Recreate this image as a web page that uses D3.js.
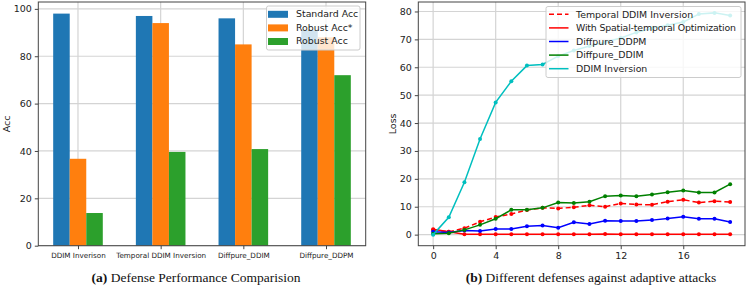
<!DOCTYPE html>
<html>
<head>
<meta charset="utf-8">
<script src="https://cdn.jsdelivr.net/npm/d3@7"></script>
<style>
  body { margin: 0; background: #fff; }
  text { font-family: "DejaVu Sans", sans-serif; fill: #222; }
  .caption { font-family: "Liberation Serif", serif; font-size: 13.5px; fill: #111; }
</style>
</head>
<body>
<svg id="chart" width="748" height="287"></svg>
<script>
// Panel (a) data
const categories = ["DDIM Inverison", "Temporal DDIM Inversion", "Diffpure_DDIM", "Diffpure_DDPM"];
const barSeries = ["Standard Acc", "Robust Acc*", "Robust Acc"];
const standardAcc = [98, 97, 96, 91];
const robustAccStar = [36.7, 94, 85, 88];
const robustAcc = [13.8, 39.6, 40.8, 72];
const barColors = ["#1f77b4", "#ff7f0e", "#2ca02c"];
const accTicks = [0, 20, 40, 60, 80, 100];

// Panel (b) data
const steps = d3.range(0, 20);
const temporalDDIM = [1.7, 1.0, 2.3, 4.6, 6.3, 7.4, 8.8, 9.6, 9.4, 9.8, 10.5, 10.0, 11.2, 10.8, 10.7, 11.8, 12.5, 11.5, 12.0, 11.7];
const spatialTemporal = [1.9, 1.0, 0.1, 0.1, 0.1, 0.1, 0.1, 0.1, 0.1, 0.1, 0.1, 0.2, 0.1, 0.1, 0.1, 0.1, 0.1, 0.1, 0.1, 0.1];
const diffpureDDPM = [1.0, 0.8, 1.5, 1.3, 2.0, 2.0, 3.0, 3.3, 2.5, 4.4, 3.8, 5.0, 4.9, 4.9, 5.2, 5.8, 6.4, 5.7, 5.7, 4.5];
const diffpureDDIM = [0.3, 0.5, 1.7, 3.5, 5.7, 8.9, 8.9, 9.6, 11.5, 11.3, 11.8, 13.8, 14.0, 13.8, 14.4, 15.2, 15.8, 15.1, 15.1, 18.1];
const ddimInversion = [0.0, 6.2, 18.8, 34.3, 47.4, 55.0, 60.6, 61.0, 64.0, 66.0, 67.6, 69.0, 70.5, 72.5, 74.0, 75.1, 76.2, 79.1, 79.5, 78.6];
const lossTicksX = [0, 4, 8, 12, 16];
const lossTicksY = [0, 10, 20, 30, 40, 50, 60, 70, 80];

const lineSeries = [
  { name: "Temporal DDIM Inversion", values: temporalDDIM, color: "#ff0000", dash: "5,3" },
  { name: "With Spatial-temporal Optimization", values: spatialTemporal, color: "#ff0000", dash: null },
  { name: "Diffpure_DDPM", values: diffpureDDPM, color: "#0000ff", dash: null },
  { name: "Diffpure_DDIM", values: diffpureDDIM, color: "#008000", dash: null },
  { name: "DDIM Inversion", values: ddimInversion, color: "#00bfbf", dash: null }
];

const svg = d3.select("#chart");
const gridColor = "#d4d4d4";
const spineColor = "#444";

// ---------- Panel (a): grouped bars ----------
const a = { left: 38.3, right: 365.7, top: 2, bottom: 245.7 };
const ga = svg.append("g");

const xA = d3.scaleLinear().domain([-0.48, 3.48]).range([a.left, a.right]);
const yA = d3.scaleLinear().domain([0, 102.9]).range([a.bottom, a.top]);

// grid
ga.append("g").selectAll("line").data(accTicks).join("line")
  .attr("x1", a.left).attr("x2", a.right)
  .attr("y1", d => yA(d)).attr("y2", d => yA(d))
  .attr("stroke", gridColor).attr("stroke-width", 1.2);
ga.append("g").selectAll("line").data(categories).join("line")
  .attr("x1", (d, i) => xA(i)).attr("x2", (d, i) => xA(i))
  .attr("y1", a.top).attr("y2", a.bottom)
  .attr("stroke", gridColor).attr("stroke-width", 1.2);

// bars
const barData = [standardAcc, robustAccStar, robustAcc];
const barW = 0.2;
barData.forEach((vals, s) => {
  ga.append("g").selectAll("rect").data(vals).join("rect")
    .attr("x", (d, i) => xA(i + (s - 1) * barW - barW / 2))
    .attr("width", xA(barW) - xA(0))
    .attr("y", d => yA(d))
    .attr("height", d => yA(0) - yA(d))
    .attr("fill", barColors[s]);
});

// axes
const axA_y = ga.append("g").attr("transform", `translate(${a.left},0)`)
  .call(d3.axisLeft(yA).tickValues(accTicks).tickSize(3.5).tickPadding(3));
axA_y.selectAll("text").style("font-size", "9.5px").style("fill", "#222");
const axA_x = ga.append("g").attr("transform", `translate(0,${a.bottom})`)
  .call(d3.axisBottom(xA).tickValues([0, 1, 2, 3]).tickFormat(i => categories[i]).tickSize(3.5).tickPadding(4));
axA_x.selectAll("text").style("font-size", "7.2px").style("fill", "#222");
[axA_x, axA_y].forEach(ax => {
  ax.select(".domain").remove();
  ax.selectAll("line").attr("stroke", spineColor);
});
ga.append("rect")
  .attr("x", a.left).attr("y", a.top)
  .attr("width", a.right - a.left).attr("height", a.bottom - a.top)
  .attr("fill", "none").attr("stroke", spineColor).attr("stroke-width", 1);

ga.append("text")
  .attr("transform", `translate(7,${(a.top + a.bottom) / 2}) rotate(-90)`)
  .attr("text-anchor", "middle").attr("dy", "0.35em")
  .style("font-size", "9.5px").text("Acc");

// legend (a)
const legA = ga.append("g").attr("transform", "translate(266.5,6)");
legA.append("rect").attr("width", 93.5).attr("height", 44).attr("rx", 2)
  .attr("fill", "#fff").attr("fill-opacity", 0.8).attr("stroke", "#ccc");
barSeries.forEach((name, i) => {
  const row = legA.append("g").attr("transform", `translate(0,${8 + i * 13.6})`);
  row.append("rect").attr("x", 1.5).attr("y", -3.2).attr("width", 20).attr("height", 7).attr("fill", barColors[i]);
  row.append("text").attr("x", 29.5).attr("dy", "0.35em").style("font-size", "9.4px").text(name);
});

ga.append("text").attr("class", "caption")
  .attr("x", 196).attr("y", 281.5).attr("text-anchor", "middle")
  .html('<tspan font-weight="bold">(a)</tspan> Defense Performance Comparision');

// ---------- Panel (b): loss curves ----------
const b = { left: 418.3, right: 745, top: 2, bottom: 245.7 };
const gb = svg.append("g");

const xB = d3.scaleLinear().domain([-0.95, 19.95]).range([b.left, b.right]);
const yB = d3.scaleLinear().domain([-3.97, 83.4]).range([b.bottom, b.top]);

gb.append("g").selectAll("line").data(lossTicksY).join("line")
  .attr("x1", b.left).attr("x2", b.right)
  .attr("y1", d => yB(d)).attr("y2", d => yB(d))
  .attr("stroke", gridColor).attr("stroke-width", 1.2);
gb.append("g").selectAll("line").data(lossTicksX).join("line")
  .attr("x1", d => xB(d)).attr("x2", d => xB(d))
  .attr("y1", b.top).attr("y2", b.bottom)
  .attr("stroke", gridColor).attr("stroke-width", 1.2);

const line = d3.line().x((d, i) => xB(steps[i])).y(d => yB(d));

lineSeries.forEach(s => {
  const g = gb.append("g");
  g.append("path").datum(s.values)
    .attr("d", line).attr("fill", "none")
    .attr("stroke", s.color).attr("stroke-width", 1.5)
    .attr("stroke-dasharray", s.dash);
  g.selectAll("circle").data(s.values).join("circle")
    .attr("cx", (d, i) => xB(steps[i])).attr("cy", d => yB(d))
    .attr("r", 2).attr("fill", s.color);
});

const axB_y = gb.append("g").attr("transform", `translate(${b.left},0)`)
  .call(d3.axisLeft(yB).tickValues(lossTicksY).tickSize(3.5).tickPadding(3));
axB_y.selectAll("text").style("font-size", "9.5px").style("fill", "#222");
const axB_x = gb.append("g").attr("transform", `translate(0,${b.bottom})`)
  .call(d3.axisBottom(xB).tickValues(lossTicksX).tickSize(3.5).tickPadding(3));
axB_x.selectAll("text").style("font-size", "9.5px").style("fill", "#222");
[axB_x, axB_y].forEach(ax => {
  ax.select(".domain").remove();
  ax.selectAll("line").attr("stroke", spineColor);
});
gb.append("rect")
  .attr("x", b.left).attr("y", b.top)
  .attr("width", b.right - b.left).attr("height", b.bottom - b.top)
  .attr("fill", "none").attr("stroke", spineColor).attr("stroke-width", 1);

gb.append("text")
  .attr("transform", `translate(393,${(b.top + b.bottom) / 2}) rotate(-90)`)
  .attr("text-anchor", "middle").attr("dy", "0.35em")
  .style("font-size", "9.5px").text("Loss");

// legend (b)
const legB = gb.append("g").attr("transform", "translate(546,6.5)");
legB.append("rect").attr("width", 195).attr("height", 71).attr("rx", 2)
  .attr("fill", "#fff").attr("fill-opacity", 0.8).attr("stroke", "#ccc");
lineSeries.forEach((s, i) => {
  const row = legB.append("g").attr("transform", `translate(0,${7.8 + i * 13.6})`);
  row.append("line").attr("x1", 3).attr("x2", 22.5)
    .attr("stroke", s.color).attr("stroke-width", 1.5)
    .attr("stroke-dasharray", s.dash);
  row.append("text").attr("x", 30).attr("dy", "0.35em").style("font-size", "9.4px")
    .attr("textLength", s.name.length > 30 ? 160 : null)
    .text(s.name);
});

gb.append("text").attr("class", "caption")
  .attr("x", 591).attr("y", 281.5).attr("text-anchor", "middle")
  .html('<tspan font-weight="bold">(b)</tspan>  Different defenses against adaptive attacks');
</script>
</body>
</html>
